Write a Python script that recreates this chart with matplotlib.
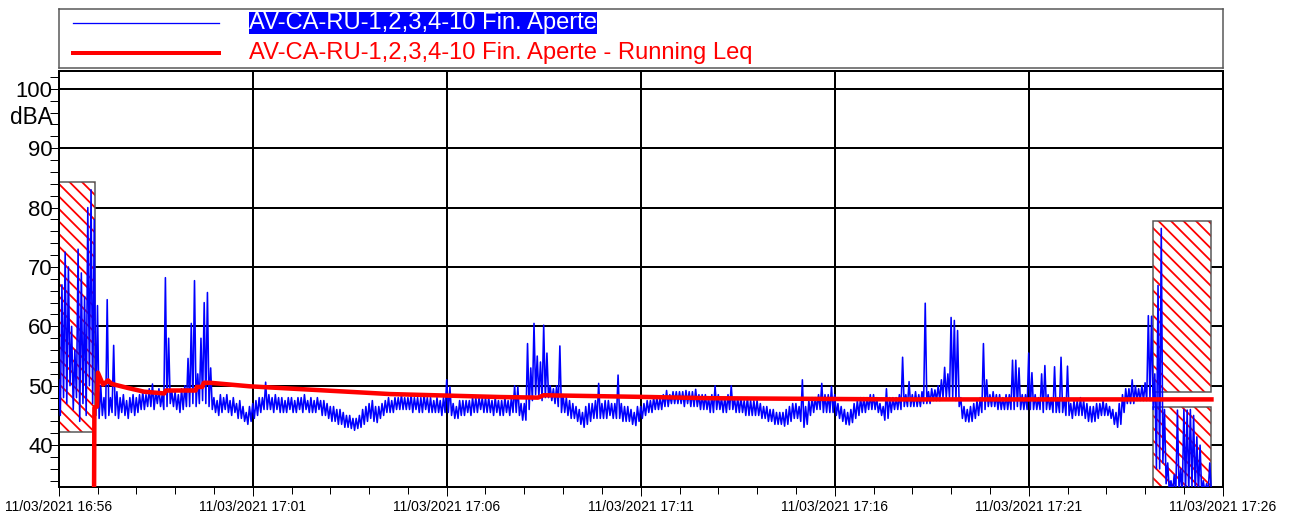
import matplotlib
matplotlib.use('Agg')
import matplotlib.pyplot as pyplot
import matplotlib.patches as patches
import matplotlib.ticker as ticker
import numpy


# Saved at 75 dpi so that one hatch unit (72 pt) is 75 px wide.
DPI = 75
PX = 72.0 / DPI

BLUE = '#0000ff'
RED = '#ff0000'
FRAME_GREY = '#555555'

SAMPLE_SECONDS = 5

SERIES_LABEL = 'AV-CA-RU-1,2,3,4-10 Fin. Aperte'
LEQ_LABEL = 'AV-CA-RU-1,2,3,4-10 Fin. Aperte - Running Leq'

X_TICK_MINUTES = [0, 5, 10, 15, 20, 25, 30]
X_TICK_LABELS = [
    '11/03/2021 16:56', '11/03/2021 17:01', '11/03/2021 17:06',
    '11/03/2021 17:11', '11/03/2021 17:16', '11/03/2021 17:21',
    '11/03/2021 17:26',
]
Y_TICKS = [40, 50, 60, 70, 80, 90, 100]

# highest level in each 5 s interval, one row per minute
LEVEL_MAX_DBA = [
    51, 67, 72.5, 70, 60, 56, 73, 69, 65, 80, 83, 78,
    63.5, 50, 48, 64.5, 48, 56.8, 49, 48, 48.5, 47.5, 48, 48.5,
    48, 48.5, 49, 48.5, 49.5, 50.3, 49, 49.5, 48.5, 68.2, 58, 49,
    49, 48.5, 49.5, 50, 54.6, 60.5, 67.7, 52, 58, 64, 65.7, 53,
    48, 47.5, 48.5, 48, 48.5, 47.5, 48, 47, 47.5, 46.5, 45.5, 46.5,
    47, 47.5, 48, 48, 50.6, 48.5, 48, 48.5, 48, 48, 47.5, 48,
    48, 47.5, 48, 48, 48.5, 47.5, 48, 47.5, 48, 47.5, 47.5, 47,
    46.5, 46.5, 46, 46, 45.5, 45, 45, 44.5, 44.5, 45, 46, 46.5,
    47, 47.5, 46.5, 46.5, 47, 47.5, 48, 47.5, 48, 48, 48.5, 48,
    48, 48.5, 48, 48, 48, 48.5, 48, 48, 47.5, 48, 47.5, 48,
    51, 49.8, 47, 46.5, 47.5, 47.5, 47.5, 47.5, 48, 48, 48, 48,
    48, 48, 47.5, 48, 47.5, 47.5, 48, 47.5, 48, 50, 49.8, 47,
    47, 57.1, 53, 60.5, 55, 54, 60.2, 55.5, 50, 49.5, 50, 56.7,
    48.5, 48, 47.5, 47, 46.5, 46, 45.5, 46.5, 47, 47, 47.5, 50.4,
    47, 47.5, 47.5, 47, 47, 51.8, 47, 46.5, 46.5, 46, 45.5, 46.5,
    46.5, 47, 47.5, 47.5, 48, 48, 48, 48.5, 49.2, 48.5, 49, 49,
    49, 49, 49.2, 49, 49, 49.4, 48.5, 48.5, 48.5, 48, 48.5, 50,
    48.5, 48, 48, 48.5, 50, 48, 48, 48, 47.5, 48, 47.5, 47.5,
    47.5, 47, 46.5, 46.5, 46, 46, 45.5, 45.5, 45.5, 46, 46.5, 47,
    47, 46.5, 51, 46.5, 47.5, 48, 48, 48.5, 50.4, 48.5, 48.5, 49.9,
    48.5, 47, 46.5, 46, 45.5, 46, 47, 47.5, 48, 48, 48, 48.5,
    48.5, 48, 47, 46.5, 49.5, 48, 48, 48, 48.5, 54.8, 48.5, 50.7,
    48.5, 49, 48.5, 49, 63.9, 49, 49.5, 49.3, 50, 51, 53.1, 52,
    61.5, 61, 59.3, 48, 46.5, 46, 46.5, 47, 47.5, 48, 57.1, 51,
    48.5, 49, 48.5, 48.5, 48, 48.5, 48.5, 54.3, 54.3, 53, 48.5, 48.5,
    55.5, 52.2, 48.5, 48, 52, 53.4, 48.5, 48, 53.2, 48, 54.8, 48,
    53.3, 47, 47.5, 47.5, 48, 47.5, 47, 46.5, 46.5, 47, 47, 47.5,
    47, 46.5, 46, 45.5, 47, 48.5, 49.5, 49.5, 51, 50, 49.5, 50,
    50.5, 61.8, 61.7, 52, 66.9, 76.5, 46, 37, 34, 35, 45.9, 36,
    46, 45.9, 46, 45, 41.4, 40, 34, 33.5, 37,
]

# lowest level in each 5 s interval, one row per minute
LEVEL_MIN_DBA = [
    45, 48, 47, 50, 46, 48, 44, 47, 45, 50, 47, 45,
    44.5, 45, 44.5, 45, 45.5, 45, 44.5, 45.5, 45, 44.5, 45.5, 45,
    45.5, 46, 46, 46.5, 46.5, 46, 47, 46.5, 46, 46.5, 47, 46.5,
    46, 45.5, 46, 46.5, 46.5, 47, 46.5, 47, 47.5, 47, 46.5, 46,
    45.5, 45, 45.5, 46, 45.5, 45, 45.5, 44.5, 44.5, 44, 43.5, 44,
    44.5, 45, 45.5, 46, 46, 46, 45.5, 46, 45.5, 45.5, 45.5, 46,
    45.5, 45.5, 46, 45.5, 46, 45.5, 45.5, 45.5, 46, 45, 45, 44.5,
    44, 44, 43.5, 43.5, 43, 43, 42.8, 42.5, 42.8, 43, 43.5, 44,
    44.5, 44, 43.8, 44.5, 45, 45.5, 45.5, 45.5, 46, 46, 46, 46,
    46, 45.5, 46, 45.5, 45.5, 46, 45.5, 45.5, 45.5, 45.5, 45, 45.5,
    45.5, 45, 44.5, 44.5, 45, 45, 45.5, 45, 45.5, 45.5, 46, 45.5,
    45.5, 45.5, 45, 45.5, 45, 45, 45.5, 45, 45.5, 45.5, 45, 44.2,
    44.2, 46, 47.5, 48.5, 48, 47.5, 48, 48, 47.5, 47, 46.5, 45.5,
    45.5, 45, 44.5, 44.5, 44, 43.5, 43, 43.5, 44, 44.5, 44.5, 44.5,
    44.5, 44.5, 45, 44.5, 44.5, 44.5, 44, 44, 44, 43.5, 43.3, 44,
    44.5, 45, 45.5, 45.5, 46, 46, 46, 46.5, 46.5, 47, 47, 47,
    47, 46.5, 47, 46.5, 46.5, 46.5, 46, 46, 46, 45.5, 45.5, 46,
    46, 45.5, 45.5, 46, 46, 45.5, 45.5, 45.5, 45, 45, 45, 45,
    45, 44.5, 44.5, 44, 44, 43.5, 43.5, 43.5, 43.2, 43.5, 44, 44.5,
    44.5, 44, 43, 43.5, 45, 45.5, 46, 46, 45.5, 45.5, 45.5, 45.5,
    45, 44.5, 44, 43.5, 43.4, 43.8, 44.5, 45, 45.5, 45.5, 46, 46,
    46, 45.5, 45, 44.2, 44.5, 45.5, 46, 46, 46, 46.5, 46.5, 46.5,
    46.5, 46.5, 46.5, 47, 47, 47, 47.5, 47.5, 47.5, 48, 48, 48,
    48, 47.5, 46.5, 44.5, 44, 43.9, 44, 44.5, 45, 45.5, 46, 46.5,
    46.5, 46.5, 46, 46, 46, 46, 46, 46, 46.5, 46, 46, 46,
    46, 46, 46, 46, 45.5, 46, 46, 45.5, 45.5, 45.5, 45.5, 45,
    45, 44.5, 45, 45, 45, 44.5, 44, 43.9, 44, 44.5, 45, 45,
    45, 44.5, 43.5, 43, 43.5, 45.5, 47, 47, 47, 47.5, 47.5, 47.5,
    47.5, 47.5, 46, 36, 36, 37, 33.5, 32, 32, 32, 32, 32,
    32, 32, 33, 32, 32, 32, 32, 32, 32,
]

LEQ_MINUTES = [
    0.91, 0.92, 0.99, 1.01, 1.14, 1.22, 1.27, 1.37, 1.8, 2.2, 2.72, 2.76,
    3.53, 3.56, 3.70, 3.74, 3.9, 4.93, 8.54, 11.38, 12.35, 12.5, 15.24,
    16.79, 21.69, 29.71,
]
LEQ_DBA = [
    30.0, 46.3, 46.5, 52.2, 50.2, 50.6, 50.9, 50.3, 49.6, 49.0, 48.7, 49.2,
    49.2, 49.8, 49.8, 50.5, 50.5, 49.9, 48.6, 48.1, 48.0, 48.4, 48.1,
    47.9, 47.7, 47.7,
]

# excluded (hatched) periods, minutes from 16:56 and dBA bounds
EXCLUDED_START = [0.0, 28.20, 28.20]
EXCLUDED_END = [0.936, 29.71, 29.71]
EXCLUDED_LOW = [42.2, 48.97, 33.0]
EXCLUDED_HIGH = [84.24, 77.73, 46.44]


def figure_fraction(left, top, right, bottom):
    width, height = 1291.0, 521.0
    return [left / width, 1 - bottom / height,
            (right - left) / width, (bottom - top) / height]


def interleaved_levels():
    # max at the start of each interval, min half way through it
    minutes = numpy.arange(len(LEVEL_MAX_DBA)) * SAMPLE_SECONDS / 60.0
    half_step = SAMPLE_SECONDS / 120.0
    times = numpy.column_stack([minutes, minutes + half_step]).ravel()
    levels = numpy.column_stack([LEVEL_MAX_DBA, LEVEL_MIN_DBA]).ravel()
    return times, levels


def add_excluded_periods(axes):
    for start, end, low, high in zip(
            EXCLUDED_START, EXCLUDED_END, EXCLUDED_LOW, EXCLUDED_HIGH):
        axes.add_patch(patches.Rectangle(
            (start, low), end - start, high - low, facecolor='white',
            edgecolor=RED, linewidth=0, hatch='\\\\', zorder=2))
        axes.add_patch(patches.Rectangle(
            (start, low), end - start, high - low, fill=False,
            edgecolor=FRAME_GREY, linewidth=1.5 * PX, zorder=2.1))


def configure_axes(axes):
    axes.set_xlim(0, 30)
    axes.set_ylim(33, 103)
    axes.set_xticks(X_TICK_MINUTES)
    axes.set_xticklabels(X_TICK_LABELS)
    axes.xaxis.set_minor_locator(ticker.MultipleLocator(1))
    axes.set_yticks(Y_TICKS)
    axes.yaxis.set_minor_locator(ticker.MultipleLocator(2))
    axes.tick_params(axis='x', which='major', length=9.5 * PX, width=PX,
                     pad=3.5 * PX, labelsize=13.9 * PX)
    axes.tick_params(axis='x', which='minor', length=7 * PX, width=PX)
    axes.tick_params(axis='y', which='both', length=8.7 * PX, width=PX,
                     pad=-2.7 * PX, labelsize=22.2 * PX)
    axes.set_axisbelow(True)
    axes.grid(which='major', color='black', linewidth=2 * PX)
    for spine in axes.spines.values():
        spine.set_linewidth(2 * PX)
        spine.set_color('black')
    axes.text(-(58.7 - 53) / 1164.0, 95.1, 'dBA',
              transform=axes.get_yaxis_transform(), ha='right', va='center',
              fontsize=22.5 * PX)


def draw_legend(figure):
    legend = figure.add_axes(figure_fraction(58.7, 9, 1222.7, 68.3))
    legend.set_xlim(0, 1)
    legend.set_ylim(0, 1)
    legend.set_xticks([])
    legend.set_yticks([])
    for spine in legend.spines.values():
        spine.set_color(FRAME_GREY)
        spine.set_linewidth(1.5 * PX)
    legend.plot([0.0123, 0.1377], [0.77, 0.77], color=BLUE,
                linewidth=1.3 * PX)
    legend.plot([0.0123, 0.1377], [0.26, 0.26], color=RED,
                linewidth=4 * PX)
    legend.text(0.1635, 0.765, SERIES_LABEL, color='white', ha='left',
                va='center', fontsize=23.7 * PX,
                bbox=dict(facecolor=BLUE, edgecolor='none', pad=0.3))
    legend.text(0.1635, 0.26, LEQ_LABEL, color=RED, ha='left',
                va='center', fontsize=23.7 * PX)


def main():
    pyplot.rcParams['font.family'] = ['Liberation Sans', 'DejaVu Sans']
    pyplot.rcParams['hatch.linewidth'] = 1.8 * PX
    pyplot.rcParams['hatch.color'] = RED

    figure = pyplot.figure(figsize=(1291.0 / DPI, 521.0 / DPI), dpi=DPI)
    axes = figure.add_axes(figure_fraction(58.7, 71, 1222.7, 486.7))

    times, levels = interleaved_levels()
    add_excluded_periods(axes)
    axes.plot(times, levels, color=BLUE, linewidth=1.6 * PX, zorder=3)
    axes.plot(LEQ_MINUTES, LEQ_DBA, color=RED, linewidth=4.5 * PX,
              zorder=4)
    configure_axes(axes)
    draw_legend(figure)

    figure.savefig('out.png', dpi=DPI)


if __name__ == '__main__':
    main()
